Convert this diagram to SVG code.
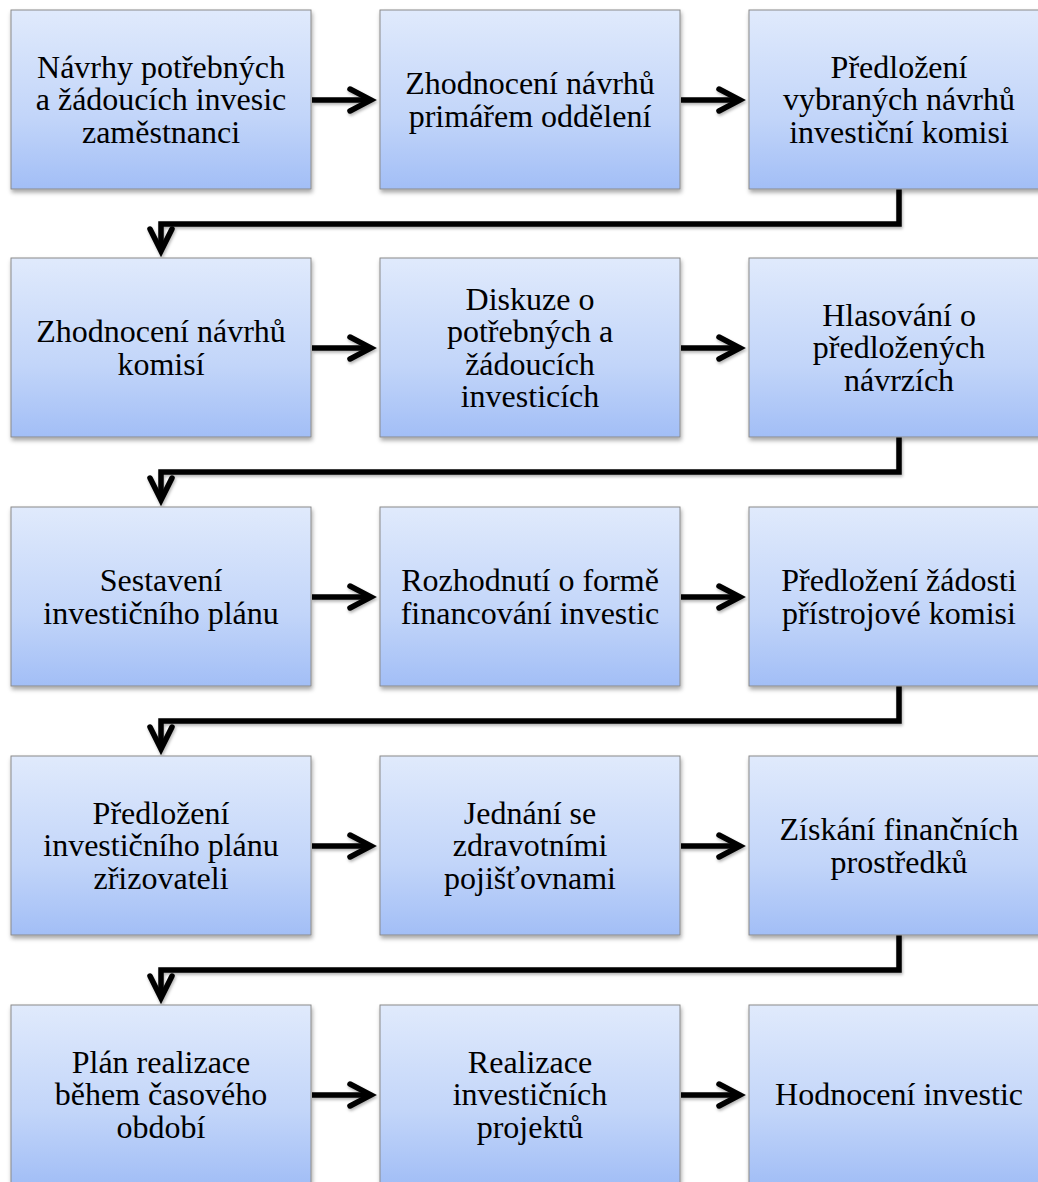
<svg xmlns="http://www.w3.org/2000/svg" width="1038" height="1182" viewBox="0 0 1038 1182">
<defs>
<linearGradient id="g" x1="0" y1="0" x2="0" y2="1">
<stop offset="0" stop-color="#e0eafc"/>
<stop offset="0.6" stop-color="#c2d5f9"/>
<stop offset="1" stop-color="#a2bef6"/>
</linearGradient>
<filter id="sh" x="-10%" y="-10%" width="125%" height="130%">
<feDropShadow dx="1" dy="3" stdDeviation="2" flood-color="#000" flood-opacity="0.35"/>
</filter>
<filter id="ash" x="-20%" y="-20%" width="140%" height="160%">
<feDropShadow dx="1" dy="2" stdDeviation="1.5" flood-color="#000" flood-opacity="0.3"/>
</filter>
</defs>
<style>
.box{fill:url(#g);stroke:#8a8a8a;stroke-width:1;filter:url(#sh)}
text{font-family:'Liberation Serif','Times New Roman','DejaVu Serif',serif;font-size:32px;fill:#000;text-anchor:middle}
.c{fill:none;stroke:#000;stroke-width:5.5;stroke-linejoin:miter}
.h{fill:none;stroke:#000;stroke-width:5.5;stroke-linecap:round;stroke-linejoin:miter}
</style>
<rect width="1038" height="1182" fill="#fff"/>
<g id="connectors" filter="url(#ash)">
<path class="c" d="M312 100H368"/><path class="h" d="M350 89L371 100L350 111"/>
<path class="c" d="M681 100H737"/><path class="h" d="M719 89L740 100L719 111"/>
<path class="c" d="M312 348H368"/><path class="h" d="M350 337L371 348L350 359"/>
<path class="c" d="M681 348H737"/><path class="h" d="M719 337L740 348L719 359"/>
<path class="c" d="M312 597H368"/><path class="h" d="M350 586L371 597L350 608"/>
<path class="c" d="M681 597H737"/><path class="h" d="M719 586L740 597L719 608"/>
<path class="c" d="M312 846H368"/><path class="h" d="M350 835L371 846L350 857"/>
<path class="c" d="M681 846H737"/><path class="h" d="M719 835L740 846L719 857"/>
<path class="c" d="M312 1095H368"/><path class="h" d="M350 1084L371 1095L350 1106"/>
<path class="c" d="M681 1095H737"/><path class="h" d="M719 1084L740 1095L719 1106"/>
<path class="c" d="M899 189V224H161V248"/><path class="h" d="M150 229L161 251L172 229"/>
<path class="c" d="M899 437V472H161V497"/><path class="h" d="M150 478L161 500L172 478"/>
<path class="c" d="M899 686V721H161V746"/><path class="h" d="M150 727L161 749L172 727"/>
<path class="c" d="M899 935V970H161V995"/><path class="h" d="M150 976L161 998L172 976"/>
</g>
<g id="n1"><rect class="box" x="11" y="10" width="300" height="179"/><text x="161" y="77.5">Návrhy potřebných</text><text x="161" y="110">a žádoucích invesic</text><text x="161" y="142.5">zaměstnanci</text></g>
<g id="n2"><rect class="box" x="380" y="10" width="300" height="179"/><text x="530" y="94">Zhodnocení návrhů</text><text x="530" y="126.5">primářem oddělení</text></g>
<g id="n3"><rect class="box" x="749" y="10" width="300" height="179"/><text x="899" y="77.5">Předložení</text><text x="899" y="110">vybraných návrhů</text><text x="899" y="142.5">investiční komisi</text></g>
<g id="n4"><rect class="box" x="11" y="258" width="300" height="179"/><text x="161" y="342">Zhodnocení návrhů</text><text x="161" y="374.5">komisí</text></g>
<g id="n5"><rect class="box" x="380" y="258" width="300" height="179"/><text x="530" y="309.5">Diskuze o</text><text x="530" y="342">potřebných a</text><text x="530" y="374.5">žádoucích</text><text x="530" y="407">investicích</text></g>
<g id="n6"><rect class="box" x="749" y="258" width="300" height="179"/><text x="899" y="325.5">Hlasování o</text><text x="899" y="358">předložených</text><text x="899" y="390.5">návrzích</text></g>
<g id="n7"><rect class="box" x="11" y="507" width="300" height="179"/><text x="161" y="591">Sestavení</text><text x="161" y="623.5">investičního plánu</text></g>
<g id="n8"><rect class="box" x="380" y="507" width="300" height="179"/><text x="530" y="591">Rozhodnutí o formě</text><text x="530" y="623.5">financování investic</text></g>
<g id="n9"><rect class="box" x="749" y="507" width="300" height="179"/><text x="899" y="591">Předložení žádosti</text><text x="899" y="623.5">přístrojové komisi</text></g>
<g id="n10"><rect class="box" x="11" y="756" width="300" height="179"/><text x="161" y="823.5">Předložení</text><text x="161" y="856">investičního plánu</text><text x="161" y="888.5">zřizovateli</text></g>
<g id="n11"><rect class="box" x="380" y="756" width="300" height="179"/><text x="530" y="823.5">Jednání se</text><text x="530" y="856">zdravotními</text><text x="530" y="888.5">pojišťovnami</text></g>
<g id="n12"><rect class="box" x="749" y="756" width="300" height="179"/><text x="899" y="840">Získání finančních</text><text x="899" y="872.5">prostředků</text></g>
<g id="n13"><rect class="box" x="11" y="1005" width="300" height="179"/><text x="161" y="1072.5">Plán realizace</text><text x="161" y="1105">během časového</text><text x="161" y="1137.5">období</text></g>
<g id="n14"><rect class="box" x="380" y="1005" width="300" height="179"/><text x="530" y="1072.5">Realizace</text><text x="530" y="1105">investičních</text><text x="530" y="1137.5">projektů</text></g>
<g id="n15"><rect class="box" x="749" y="1005" width="300" height="179"/><text x="899" y="1105">Hodnocení investic</text></g>
</svg>
